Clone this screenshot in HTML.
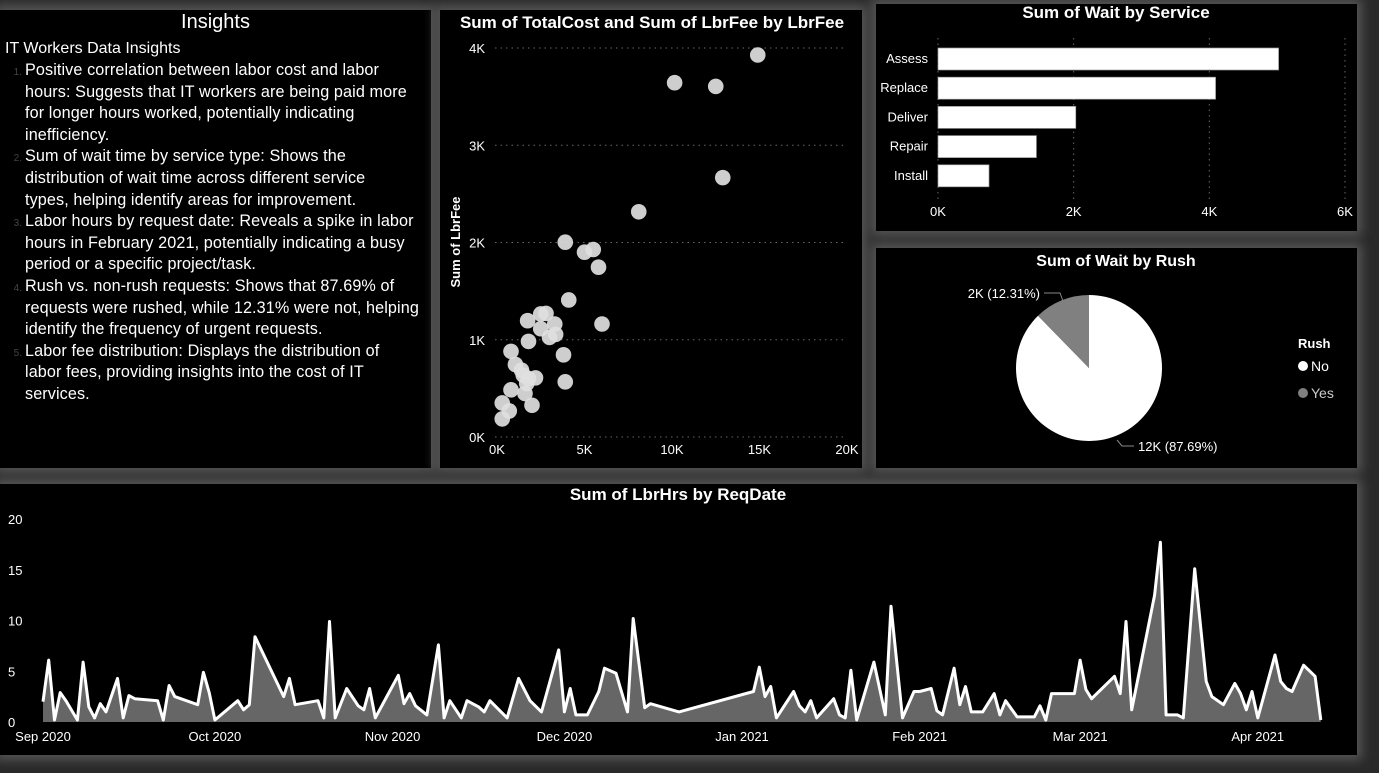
<!DOCTYPE html>
<html><head><meta charset="utf-8">
<style>
html,body{margin:0;padding:0;background:#2a2a2a;width:1379px;height:773px;overflow:hidden;font-family:"Liberation Sans",sans-serif;}
.panel{position:absolute;background:#000;box-shadow:0 0 10px 5px #555;}
#insights{left:0;top:10px;width:431px;height:458px;color:#fff;}
#insights h1{margin:0;font-size:20px;font-weight:normal;text-align:center;padding-top:1px;height:28px;}
#insights .sub{font-size:16px;padding-left:5px;line-height:22px;margin-top:-1px;}
#insights ol{margin:0;padding-left:25px;font-size:16.2px;line-height:21.6px;letter-spacing:0.1px;}
#insights li::marker{color:#444;font-size:10px;}
svg{position:absolute;left:0;top:0;}
</style></head><body>
<div class="panel" id="insights">
<h1>Insights</h1>
<div class="sub">IT Workers Data Insights</div>
<ol>
<li>Positive correlation between labor cost and labor<br>hours: Suggests that IT workers are being paid more<br>for longer hours worked, potentially indicating<br>inefficiency.</li>
<li>Sum of wait time by service type: Shows the<br>distribution of wait time across different service<br>types, helping identify areas for improvement.</li>
<li>Labor hours by request date: Reveals a spike in labor<br>hours in February 2021, potentially indicating a busy<br>period or a specific project/task.</li>
<li>Rush vs. non-rush requests: Shows that 87.69% of<br>requests were rushed, while 12.31% were not, helping<br>identify the frequency of urgent requests.</li>
<li>Labor fee distribution: Displays the distribution of<br>labor fees, providing insights into the cost of IT<br>services.</li>
</ol>
</div>
<div class="panel" style="left:440px;top:10px;width:422px;height:458px"></div>
<div class="panel" style="left:876px;top:4px;width:481px;height:227px"></div>
<div class="panel" style="left:876px;top:248px;width:481px;height:220px"></div>
<div class="panel" style="left:0;top:484px;width:1357px;height:271px"></div>

<svg id="chart" width="1379" height="773" xmlns="http://www.w3.org/2000/svg" font-family="Liberation Sans, sans-serif">
<text x="652" y="28" fill="#fff" font-size="17" font-weight="bold" text-anchor="middle">Sum of TotalCost and Sum of LbrFee by LbrFee</text>
<text x="0" y="0" fill="#fff" font-size="13" font-weight="bold" text-anchor="middle" transform="translate(460,242) rotate(-90)">Sum of LbrFee</text>
<text x="1116" y="18" fill="#fff" font-size="17" font-weight="bold" text-anchor="middle">Sum of Wait by Service</text>
<text x="1116" y="266" fill="#fff" font-size="16" font-weight="bold" text-anchor="middle">Sum of Wait by Rush</text>
<text x="678" y="500" fill="#fff" font-size="17" font-weight="bold" text-anchor="middle">Sum of LbrHrs by ReqDate</text>
<g id="scatter"></g><g id="bars"></g><g id="pie"></g><g id="line"></g>
</svg>
<script>
const NS='http://www.w3.org/2000/svg';
// Scatter data
const scatterCost=[14900,10150,12500,12900,8100,3900,5000,5500,5800,4100,6000,1750,2500,2800,2500,3300,3350,3000,1800,3800,800,1050,1400,1500,1800,2200,1700,1600,800,3900,2000,300,700,300];
const scatterFee=[3928,3643,3605,2667,2316,2003,1900,1928,1746,1409,1162,1196,1265,1271,1113,1162,1055,1024,983,845,880,746,687,636,601,608,550,447,485,567,326,350,268,186];
const scatterYTicks=[0,1000,2000,3000,4000];
const scatterYLabels=['0K','1K','2K','3K','4K'];
const scatterXTicks=[0,5000,10000,15000,20000];
const scatterXLabels=['0K','5K','10K','15K','20K'];
// Bar data
const services=['Assess','Replace','Deliver','Repair','Install'];
const waitValues=[5021,4092,2031,1451,752];
const barTicks=[0,2000,4000,6000];
const barTickLabels=['0K','2K','4K','6K'];
// Pie data
const rushCats=['No','Yes'];
const rushValues=[12.4,1.74];
const rushLabels=['12K (87.69%)','2K (12.31%)'];
// Line data (day offsets from Sep 1 2020)
const lineDays=[0,1,2,3,4,6,7,8,9,10,11,13,14,15,16,20,21,22,23,27,28,29,30,34,35,36,37,42,43,44,48,49,50,51,53,55,56,57,58,62,63,64,65,67,69,70,71,73,74,76,77,78,81,83,85,87,90,91,92,93,95,97,98,100,102,103,105,106,111,124,125,126,127,128,131,132,133,134,135,138,139,140,141,142,145,147,148,150,152,153,155,156,157,159,160,161,162,164,166,167,168,170,173,174,175,176,180,181,182,183,187,188,189,190,194,195,196,198,199,201,203,204,206,208,209,210,211,212,215,216,217,218,220,222,223];
const lineHours=[2.0,6.1,0.2,2.9,2.1,0.2,5.9,1.5,0.4,1.8,1.0,4.3,0.4,2.6,2.3,2.1,0.2,3.6,2.5,1.7,4.9,2.9,0.2,2.1,1.2,1.7,8.4,2.5,4.3,1.7,2.1,0.4,9.9,0.4,3.3,1.6,1.2,3.3,0.4,4.6,1.8,2.8,1.6,0.7,7.6,0.4,2.1,0.4,2.1,1.5,1.0,2.1,0.4,4.3,2.1,1.0,7.1,1.0,3.3,0.7,0.7,3.0,5.3,4.8,1.0,10.2,1.4,1.8,1.0,3.0,5.4,2.5,3.5,0.4,3.0,1.6,1.0,2.1,0.4,2.3,0.7,0.4,5.1,0.2,5.9,0.7,11.4,0.4,3.0,3.0,3.3,1.1,0.7,5.3,1.7,3.5,1.0,1.0,2.8,0.7,2.1,0.5,0.5,1.6,0.2,2.8,2.8,6.1,3.2,2.3,4.5,2.8,9.9,1.2,12.5,17.7,0.7,0.7,0.4,15.1,4.0,2.5,1.7,3.8,2.8,1.2,3.0,0.4,6.6,4.0,3.3,3.0,5.6,4.5,0.2];
const lineYTicks=[0,5,10,15,20];
const monthNames=['Sep 2020','Oct 2020','Nov 2020','Dec 2020','Jan 2021','Feb 2021','Mar 2021','Apr 2021'];
const monthDays=[0,30,61,91,122,153,181,212];

function mk(tag,attrs,parent){const e=document.createElementNS(NS,tag);for(const k in attrs)e.setAttribute(k,attrs[k]);parent.appendChild(e);return e;}

// scatter
const sx=v=>497+v/20000*350, sy=v=>437-v*0.09725;
const gS=document.getElementById('scatter');
scatterYTicks.forEach((t,i)=>{
  const l=mk('line',{x1:495,x2:847,y1:sy(t),y2:sy(t),stroke:'#666','stroke-dasharray':'1.5 4'},gS);
  
  
  const tx=mk('text',{x:485,y:sy(t)+5,fill:'#fff','font-size':13,'text-anchor':'end'},gS);tx.textContent=scatterYLabels[i];
  
  
});
scatterXTicks.forEach((t,i)=>{
  const tx=mk('text',{x:sx(t),y:454,fill:'#fff','font-size':13,'text-anchor':'middle'},gS);tx.textContent=scatterXLabels[i];
  
  
});
scatterCost.forEach((c,i)=>{
  const p=mk('circle',{cx:sx(c),cy:sy(scatterFee[i]),r:7.8,fill:'#e0e0e0','fill-opacity':0.92},gS);
  
  
});

// bars
const bx=v=>938+v/6000*407;
const gB=document.getElementById('bars');
barTicks.forEach((t,i)=>{
  const l=mk('line',{x1:bx(t),x2:bx(t),y1:38,y2:200,stroke:'#666','stroke-dasharray':'1.5 4'},gB);
  
  
  const tx=mk('text',{x:bx(t),y:216,fill:'#fff','font-size':13,'text-anchor':'middle'},gB);tx.textContent=barTickLabels[i];
  
  
});
services.forEach((s,i)=>{
  const cy=59+i*29.2;
  const r=mk('rect',{x:bx(0),y:cy-11,width:bx(waitValues[i])-bx(0),height:22,fill:'#fff',stroke:'#999','stroke-width':0.7},gB);
  
  
  const tx=mk('text',{x:928,y:cy+4,fill:'#fff','font-size':13,'text-anchor':'end'},gB);tx.textContent=s;
  
  
});

// pie
const gP=document.getElementById('pie');
const cx=1089,cy=368,R=73;
const total=rushValues.reduce((a,b)=>a+b,0);
let ang=0;
const colors=['#fff','#808080'];
rushValues.forEach((v,i)=>{
  const a0=ang,a1=ang+v/total*2*Math.PI;ang=a1;
  const p=(a)=>[cx+R*Math.sin(a),cy-R*Math.cos(a)];
  const [x0,y0]=p(a0),[x1,y1]=p(a1);
  const large=(a1-a0)>Math.PI?1:0;
  const s=mk('path',{d:`M${cx},${cy}L${x0},${y0}A${R},${R} 0 ${large} 1 ${x1},${y1}Z`,fill:colors[i]},gP);
  
  
});
mk('polyline',{points:'1044,293 1060,293 1063,301',fill:'none',stroke:'#888'},gP);
mk('polyline',{points:'1117,440 1122,446 1134,446',fill:'none',stroke:'#888'},gP);
let t1=mk('text',{x:1040,y:298,fill:'#fff','font-size':13,'text-anchor':'end'},gP);t1.textContent=rushLabels[1];


let t2=mk('text',{x:1138,y:451,fill:'#fff','font-size':13},gP);t2.textContent=rushLabels[0];


let lt=mk('text',{x:1298,y:348,fill:'#fff','font-size':13,'font-weight':'bold'},gP);lt.textContent='Rush';


rushCats.forEach((c,i)=>{
  const y=366+i*27;
  const d=mk('circle',{cx:1303,cy:y,r:5,fill:colors[i]},gP);
  
  
  const t=mk('text',{x:1311,y:y+5,fill:colors[i]==='#fff'?'#fff':'#ccc','font-size':14},gP);t.textContent=c;
  
  
});

// line
const lx=d=>43+d*5.73, ly=v=>722-v*10.15;
const gL=document.getElementById('line');
lineYTicks.forEach(t=>{
  const tx=mk('text',{x:8,y:ly(t)+5,fill:'#fff','font-size':13},gL);tx.textContent=t;
  
  
});
monthNames.forEach((m,i)=>{
  const tx=mk('text',{x:lx(monthDays[i]),y:741,fill:'#fff','font-size':13,'text-anchor':'middle'},gL);tx.textContent=m;
  
  
});
let pts=lineDays.map((d,i)=>lx(d).toFixed(1)+','+ly(lineHours[i]).toFixed(1));
const area=mk('path',{d:`M${lx(lineDays[0])},${ly(0)}L${pts.join('L')}L${lx(lineDays[lineDays.length-1])},${ly(0)}Z`,fill:'#666'},gL);


const ln=mk('polyline',{points:pts.join(' '),fill:'none',stroke:'#fff','stroke-width':3,'stroke-linejoin':'round'},gL);


</script>
</body></html>
